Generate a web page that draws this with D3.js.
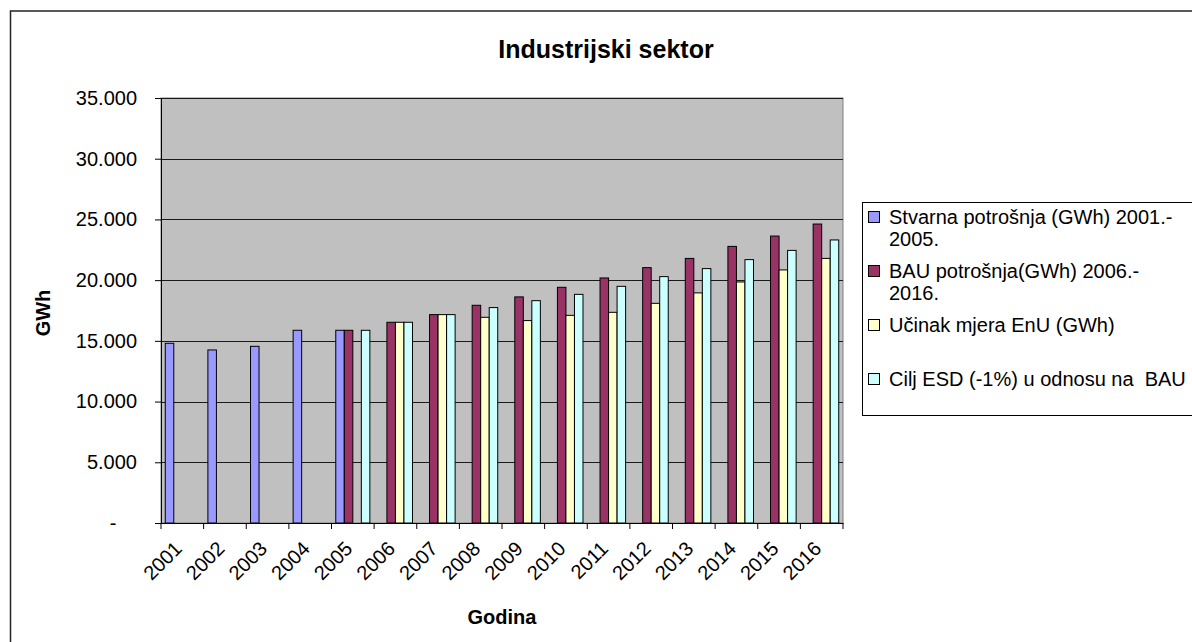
<!DOCTYPE html>
<html>
<head>
<meta charset="utf-8">
<script src="https://cdn.jsdelivr.net/npm/d3@7"></script>
<style>
  body { margin: 0; background: #fff; }
  svg { display: block; font-family: "Liberation Sans", Arial, sans-serif; }
</style>
</head>
<body>
<svg width="1192" height="642"></svg>
<script>
// data
var years = ["2001","2002","2003","2004","2005","2006","2007","2008",
             "2009","2010","2011","2012","2013","2014","2015","2016"];
var stvarna = [14800, 14250, 14550, 15870, 15870, null, null, null,
               null, null, null, null, null, null, null, null];
var bau = [null, null, null, null, 15870, 16530, 17160, 17930,
           18620, 19410, 20180, 21030, 21790, 22780, 23630, 24620];
var ucinak = [null, null, null, null, null, 16530, 17160, 16940,
              16670, 17100, 17350, 18090, 18950, 19850, 20840, 21790];
var cilj = [null, null, null, null, 15870, 16530, 17160, 17740,
            18310, 18830, 19490, 20290, 20950, 21690, 22450, 23310];
var seriesNames = ["Stvarna potrošnja (GWh) 2001.-|2005.",
                   "BAU potrošnja(GWh) 2006.-|2016.",
                   "Učinak mjera EnU (GWh)",
                   "Cilj ESD (-1%) u odnosu na  BAU"];
var seriesColors = ["#9999ff", "#993366", "#ffffcc", "#ccffff"];
var yTicks = [0, 5000, 10000, 15000, 20000, 25000, 30000, 35000];

var series = [stvarna, bau, ucinak, cilj];

var svg = d3.select("svg");
var plotLeft = 161, plotRight = 843, plotTop = 98, plotBottom = 523;

// outer chart border (runs off the window on the right and bottom)
svg.append("rect")
   .attr("x", 10.5).attr("y", 11)
   .attr("width", 1400).attr("height", 800)
   .attr("fill", "none")
   .attr("stroke", "#222")
   .attr("stroke-width", 1.5);

var x = d3.scaleBand().domain(years).range([plotLeft, plotRight]).padding(0);
var x1 = d3.scaleBand().domain(d3.range(series.length))
           .range([x.bandwidth() * 0.1, x.bandwidth() * 0.9]).padding(0);
var y = d3.scaleLinear().domain([0, 35000]).range([plotBottom, plotTop]);

// plot area
svg.append("rect")
   .attr("x", plotLeft).attr("y", plotTop)
   .attr("width", plotRight - plotLeft).attr("height", plotBottom - plotTop)
   .attr("fill", "#c0c0c0")
   .attr("stroke", "#808080");

// gridlines
svg.append("g")
   .selectAll("line")
   .data(yTicks.filter(function(d) { return d > 0; }))
   .enter().append("line")
   .attr("x1", plotLeft).attr("x2", plotRight)
   .attr("y1", function(d) { return Math.round(y(d)) + 0.5; })
   .attr("y2", function(d) { return Math.round(y(d)) + 0.5; })
   .attr("stroke", "#1a1a1a")
   .attr("stroke-width", 1);

// bars
series.forEach(function(vals, si) {
    svg.append("g")
       .selectAll("rect")
       .data(vals.map(function(v, i) { return { year: years[i], value: v }; })
                 .filter(function(d) { return d.value != null; }))
       .enter().append("rect")
       .attr("x", function(d) { return x(d.year) + x1(si); })
       .attr("y", function(d) { return y(d.value); })
       .attr("width", x1.bandwidth())
       .attr("height", function(d) { return plotBottom - y(d.value); })
       .attr("fill", seriesColors[si])
       .attr("stroke", "#000")
       .attr("stroke-width", 1);
});

// y axis
var yAxis = d3.axisLeft(y)
    .tickValues(yTicks)
    .tickSize(6)
    .tickPadding(18)
    .tickFormat(function(d) { return d === 0 ? "" : d3.format(",")(d).replace(/,/g, "."); });
var yg = svg.append("g").attr("transform", "translate(" + plotLeft + ",0)").call(yAxis);
yg.select(".domain").attr("stroke", "#000");
yg.selectAll(".tick line").attr("stroke", "#000");
yg.selectAll("text").attr("font-size", 20).attr("fill", "#000")
  .attr("font-family", "Liberation Sans, Arial, sans-serif");
svg.append("text")
   .attr("x", 113).attr("y", y(0))
   .attr("dy", "0.35em")
   .attr("text-anchor", "middle")
   .attr("font-size", 20)
   .text("-");

// x axis
var xAxis = d3.axisBottom(x).tickSize(0).tickFormat("");
var xg = svg.append("g").attr("transform", "translate(0," + plotBottom + ")").call(xAxis);
xg.select(".domain").attr("stroke", "#000");
svg.append("g")
   .selectAll("line")
   .data(years.concat(["end"]))
   .enter().append("line")
   .attr("x1", function(d, i) { return plotLeft + i * x.bandwidth(); })
   .attr("x2", function(d, i) { return plotLeft + i * x.bandwidth(); })
   .attr("y1", plotBottom).attr("y2", plotBottom + 6)
   .attr("stroke", "#000");

svg.append("g")
   .selectAll("text")
   .data(years)
   .enter().append("text")
   .attr("transform", function(d) {
       return "translate(" + (x(d) + x.bandwidth() / 2 - 9) + "," + (plotBottom + 17) + ") rotate(-45)";
   })
   .attr("text-anchor", "end")
   .attr("dy", "0.7em")
   .attr("font-size", 20)
   .text(function(d) { return d; });

// titles
svg.append("text")
   .attr("x", 606).attr("y", 58)
   .attr("text-anchor", "middle")
   .attr("font-size", 25)
   .attr("font-weight", "bold")
   .text("Industrijski sektor");

svg.append("text")
   .attr("x", (plotLeft + plotRight) / 2).attr("y", 624)
   .attr("text-anchor", "middle")
   .attr("font-size", 20)
   .attr("font-weight", "bold")
   .text("Godina");

svg.append("text")
   .attr("transform", "translate(50,313) rotate(-90)")
   .attr("text-anchor", "middle")
   .attr("font-size", 20)
   .attr("font-weight", "bold")
   .text("GWh");

// legend
var lg = svg.append("g");
lg.append("rect")
  .attr("x", 862.5).attr("y", 202.5)
  .attr("width", 400).attr("height", 213)
  .attr("fill", "#fff")
  .attr("stroke", "#000");

seriesNames.forEach(function(name, i) {
    var by = 224 + i * 54;
    lg.append("rect")
      .attr("x", 868.5).attr("y", by - 12.5)
      .attr("width", 11).attr("height", 11)
      .attr("fill", seriesColors[i])
      .attr("stroke", "#000");
    name.split("|").forEach(function(line, j) {
        lg.append("text")
          .attr("x", 889).attr("y", by + j * 22)
          .attr("font-size", 20)
          .style("white-space", "pre")
          .text(line);
    });
});
</script>
</body>
</html>
